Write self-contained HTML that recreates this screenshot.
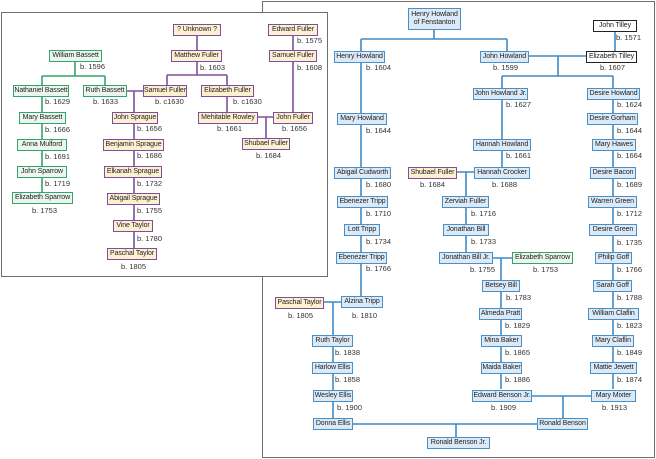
<!DOCTYPE html>
<html><head><meta charset="utf-8"><style>
html,body{margin:0;padding:0;background:#fff;}
body{width:656px;height:459px;position:relative;overflow:hidden;font-family:"Liberation Sans",sans-serif;}
.p{position:absolute;box-sizing:border-box;border:1px solid #6e6e6e;background:#fff;}
.b{position:absolute;box-sizing:border-box;border:1.5px solid #4a90c8;background:#dce9f6;font-size:7px;letter-spacing:-0.1px;color:#222;display:flex;align-items:center;justify-content:center;white-space:nowrap;line-height:8.5px;text-align:center;overflow:visible;}
.pu{border-color:#7d4f9d;background:#fdf0d0;}
.g{border-color:#35a46c;background:#eaf6ee;}
.k{border-color:#222;background:#fff;}
.d{position:absolute;font-size:7.5px;color:#333;white-space:nowrap;line-height:9px;}
svg{position:absolute;left:0;top:0;}
.L{z-index:5;}
</style></head><body>
<div class="p" style="left:262px;top:1px;width:393px;height:457px;z-index:0"></div>
<svg width="656" height="459" style="z-index:1" fill="none" stroke="#3f8ac6" stroke-width="1.6">
<path d="M434 29V39M361 39H507M361 39V52M507 39V52M615 31V52"/>
<path d="M529 56H586M558 56V76M502 76H613M502 76V88M613 76V88"/>
<path d="M361 62V297M502 100V167M457 172H474M466 172V252"/>
<path d="M493 258H512M501 258V389M613 100V389"/>
<path d="M324 302H341M333 302V418M532 396H591M563 396V418M353 424H537M456 424V437"/>
</svg>
<div class="b" style="left:408px;top:8px;width:53px;height:22px;z-index:2">Henry Howland<br>of Fenstanton</div>
<div class="b k" style="left:593px;top:20px;width:44px;height:12px;z-index:2">John Tilley</div><div class="d" style="left:616px;top:33px">b. 1571</div>
<div class="b" style="left:334px;top:51px;width:51px;height:12px;z-index:2">Henry Howland</div><div class="d" style="left:366px;top:63px">b. 1604</div>
<div class="b" style="left:480px;top:51px;width:49px;height:12px;z-index:2">John Howland</div><div class="d" style="left:493px;top:63px">b. 1599</div>
<div class="b k" style="left:586px;top:51px;width:51px;height:12px;z-index:2">Elizabeth Tilley</div><div class="d" style="left:600px;top:63px">b. 1607</div>
<div class="b" style="left:473px;top:88px;width:55px;height:12px;z-index:2">John Howland Jr.</div><div class="d" style="left:506px;top:100px">b. 1627</div>
<div class="b" style="left:587px;top:88px;width:53px;height:12px;z-index:2">Desire Howland</div><div class="d" style="left:617px;top:100px">b. 1624</div>
<div class="b" style="left:337px;top:113px;width:50px;height:12px;z-index:2">Mary Howland</div><div class="d" style="left:366px;top:126px">b. 1644</div>
<div class="b" style="left:587px;top:113px;width:51px;height:12px;z-index:2">Desire Gorham</div><div class="d" style="left:617px;top:126px">b. 1644</div>
<div class="b" style="left:473px;top:139px;width:58px;height:12px;z-index:2">Hannah Howland</div><div class="d" style="left:506px;top:151px">b. 1661</div>
<div class="b" style="left:592px;top:139px;width:44px;height:12px;z-index:2">Mary Hawes</div><div class="d" style="left:617px;top:151px">b. 1664</div>
<div class="b" style="left:334px;top:167px;width:57px;height:12px;z-index:2">Abigail Cudworth</div><div class="d" style="left:366px;top:180px">b. 1680</div>
<div class="b pu" style="left:408px;top:167px;width:49px;height:12px;z-index:2">Shubael Fuller</div><div class="d" style="left:420px;top:180px">b. 1684</div>
<div class="b" style="left:474px;top:167px;width:56px;height:12px;z-index:2">Hannah Crocker</div><div class="d" style="left:492px;top:180px">b. 1688</div>
<div class="b" style="left:590px;top:167px;width:46px;height:12px;z-index:2">Desire Bacon</div><div class="d" style="left:617px;top:180px">b. 1689</div>
<div class="b" style="left:337px;top:196px;width:51px;height:12px;z-index:2">Ebenezer Tripp</div><div class="d" style="left:366px;top:209px">b. 1710</div>
<div class="b" style="left:442px;top:196px;width:47px;height:12px;z-index:2">Zerviah Fuller</div><div class="d" style="left:471px;top:209px">b. 1716</div>
<div class="b" style="left:588px;top:196px;width:49px;height:12px;z-index:2">Warren Green</div><div class="d" style="left:617px;top:209px">b. 1712</div>
<div class="b" style="left:344px;top:224px;width:36px;height:12px;z-index:2">Lott Tripp</div><div class="d" style="left:366px;top:237px">b. 1734</div>
<div class="b" style="left:443px;top:224px;width:46px;height:12px;z-index:2">Jonathan Bill</div><div class="d" style="left:471px;top:237px">b. 1733</div>
<div class="b" style="left:589px;top:224px;width:48px;height:12px;z-index:2">Desire Green</div><div class="d" style="left:617px;top:238px">b. 1735</div>
<div class="b" style="left:336px;top:252px;width:51px;height:12px;z-index:2">Ebenezer Tripp</div><div class="d" style="left:366px;top:264px">b. 1766</div>
<div class="b" style="left:439px;top:252px;width:54px;height:12px;z-index:2">Jonathan Bill Jr.</div><div class="d" style="left:470px;top:265px">b. 1755</div>
<div class="b g" style="left:512px;top:252px;width:61px;height:12px;z-index:2">Elizabeth Sparrow</div><div class="d" style="left:533px;top:265px">b. 1753</div>
<div class="b" style="left:595px;top:252px;width:37px;height:12px;z-index:2">Philip Goff</div><div class="d" style="left:617px;top:265px">b. 1766</div>
<div class="b" style="left:482px;top:280px;width:38px;height:12px;z-index:2">Betsey Bill</div><div class="d" style="left:506px;top:293px">b. 1783</div>
<div class="b" style="left:593px;top:280px;width:39px;height:12px;z-index:2">Sarah Goff</div><div class="d" style="left:617px;top:293px">b. 1788</div>
<div class="b pu" style="left:275px;top:297px;width:49px;height:12px;z-index:2">Paschal Taylor</div><div class="d" style="left:288px;top:311px">b. 1805</div>
<div class="b" style="left:341px;top:296px;width:42px;height:12px;z-index:2">Alzina Tripp</div><div class="d" style="left:352px;top:311px">b. 1810</div>
<div class="b" style="left:479px;top:308px;width:43px;height:12px;z-index:2">Almeda Pratt</div><div class="d" style="left:505px;top:321px">b. 1829</div>
<div class="b" style="left:588px;top:308px;width:51px;height:12px;z-index:2">William Claflin</div><div class="d" style="left:617px;top:321px">b. 1823</div>
<div class="b" style="left:312px;top:335px;width:41px;height:12px;z-index:2">Ruth Taylor</div><div class="d" style="left:335px;top:348px">b. 1838</div>
<div class="b" style="left:481px;top:335px;width:41px;height:12px;z-index:2">Mina Baker</div><div class="d" style="left:505px;top:348px">b. 1865</div>
<div class="b" style="left:592px;top:335px;width:42px;height:12px;z-index:2">Mary Claflin</div><div class="d" style="left:617px;top:348px">b. 1849</div>
<div class="b" style="left:312px;top:362px;width:41px;height:12px;z-index:2">Harlow Ellis</div><div class="d" style="left:335px;top:375px">b. 1858</div>
<div class="b" style="left:481px;top:362px;width:41px;height:12px;z-index:2">Maida Baker</div><div class="d" style="left:505px;top:375px">b. 1886</div>
<div class="b" style="left:590px;top:362px;width:47px;height:12px;z-index:2">Mattie Jewett</div><div class="d" style="left:617px;top:375px">b. 1874</div>
<div class="b" style="left:313px;top:390px;width:40px;height:12px;z-index:2">Wesley Ellis</div><div class="d" style="left:337px;top:403px">b. 1900</div>
<div class="b" style="left:472px;top:390px;width:60px;height:12px;z-index:2">Edward Benson Jr.</div><div class="d" style="left:491px;top:403px">b. 1909</div>
<div class="b" style="left:591px;top:390px;width:45px;height:12px;z-index:2">Mary Mixter</div><div class="d" style="left:602px;top:403px">b. 1913</div>
<div class="b" style="left:313px;top:418px;width:40px;height:12px;z-index:2">Donna Ellis</div>
<div class="b" style="left:537px;top:418px;width:51px;height:12px;z-index:2">Ronald Benson</div>
<div class="b" style="left:427px;top:437px;width:63px;height:12px;z-index:2">Ronald Benson Jr.</div>

<div class="p" style="left:1px;top:12px;width:327px;height:265px;z-index:3"></div>
<svg width="656" height="459" style="z-index:4" fill="none" stroke-width="1.6">
<g stroke="#35a46c"><path d="M75 62V76M42 76H105M42 76V192M105 76V86"/></g>
<g stroke="#7d4f9d"><path d="M197 36V75M167 75H227M167 75V86M227 75V112M293 36V112M127 91H143M134 91V248M258 117H273M266 117V138"/></g>
</svg>
<div class="b pu L" style="left:173px;top:24px;width:48px;height:12px">? Unknown ?</div>
<div class="b pu L" style="left:268px;top:24px;width:50px;height:12px">Edward Fuller</div><div class="d L" style="left:297px;top:36px">b. 1575</div>
<div class="b g L" style="left:49px;top:50px;width:53px;height:12px">William Bassett</div><div class="d L" style="left:80px;top:62px">b. 1596</div>
<div class="b pu L" style="left:171px;top:50px;width:51px;height:12px">Matthew Fuller</div><div class="d L" style="left:200px;top:63px">b. 1603</div>
<div class="b pu L" style="left:269px;top:50px;width:48px;height:12px">Samuel Fuller</div><div class="d L" style="left:297px;top:63px">b. 1608</div>
<div class="b g L" style="left:13px;top:85px;width:56px;height:12px">Nathaniel Bassett</div><div class="d L" style="left:45px;top:97px">b. 1629</div>
<div class="b g L" style="left:83px;top:85px;width:44px;height:12px">Ruth Bassett</div><div class="d L" style="left:93px;top:97px">b. 1633</div>
<div class="b pu L" style="left:143px;top:85px;width:44px;height:12px">Samuel Fuller</div><div class="d L" style="left:155px;top:97px">b. c1630</div>
<div class="b pu L" style="left:201px;top:85px;width:53px;height:12px">Elizabeth Fuller</div><div class="d L" style="left:233px;top:97px">b. c1630</div>
<div class="b g L" style="left:19px;top:112px;width:47px;height:12px">Mary Bassett</div><div class="d L" style="left:45px;top:125px">b. 1666</div>
<div class="b pu L" style="left:112px;top:112px;width:46px;height:12px">John Sprague</div><div class="d L" style="left:137px;top:124px">b. 1656</div>
<div class="b pu L" style="left:198px;top:112px;width:60px;height:12px">Mehitable Rowley</div><div class="d L" style="left:217px;top:124px">b. 1661</div>
<div class="b pu L" style="left:273px;top:112px;width:40px;height:12px">John Fuller</div><div class="d L" style="left:282px;top:124px">b. 1656</div>
<div class="b g L" style="left:17px;top:139px;width:50px;height:12px">Anna Mulford</div><div class="d L" style="left:45px;top:152px">b. 1691</div>
<div class="b pu L" style="left:103px;top:139px;width:61px;height:12px">Benjamin Sprague</div><div class="d L" style="left:137px;top:151px">b. 1686</div>
<div class="b pu L" style="left:242px;top:138px;width:48px;height:12px">Shubael Fuller</div><div class="d L" style="left:256px;top:151px">b. 1684</div>
<div class="b g L" style="left:17px;top:166px;width:50px;height:12px">John Sparrow</div><div class="d L" style="left:45px;top:179px">b. 1719</div>
<div class="b pu L" style="left:104px;top:166px;width:58px;height:12px">Elkanah Sprague</div><div class="d L" style="left:137px;top:179px">b. 1732</div>
<div class="b g L" style="left:12px;top:192px;width:61px;height:12px">Elizabeth Sparrow</div><div class="d L" style="left:32px;top:206px">b. 1753</div>
<div class="b pu L" style="left:107px;top:193px;width:53px;height:12px">Abigail Sprague</div><div class="d L" style="left:137px;top:206px">b. 1755</div>
<div class="b pu L" style="left:113px;top:220px;width:40px;height:12px">Vine Taylor</div><div class="d L" style="left:137px;top:234px">b. 1780</div>
<div class="b pu L" style="left:107px;top:248px;width:50px;height:12px">Paschal Taylor</div><div class="d L" style="left:121px;top:262px">b. 1805</div>
</body></html>
